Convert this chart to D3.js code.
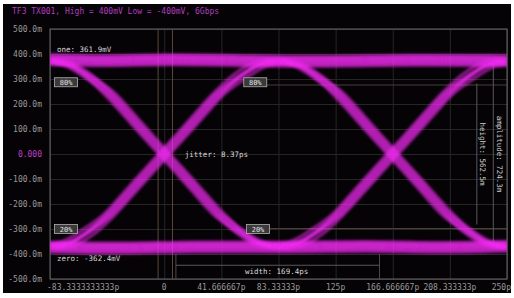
<!DOCTYPE html>
<html>
<head>
<meta charset="utf-8">
<script src="https://cdn.jsdelivr.net/npm/d3@7"></script>
<style>
  body { margin: 0; background: #fff; }
  svg { display: block; }
</style>
</head>
<body>
<div id="chart"></div>
<script>
// title and axis ticks
const title = "TF3 TX001, High = 400mV Low = -400mV, 6Gbps";
const yTicks = [500, 400, 300, 200, 100, 0, -100, -200, -300, -400, -500];
const yTickLabels = ["500.0m", "400.0m", "300.0m", "200.0m", "100.0m", "0.000", "-100.0m", "-200.0m", "-300.0m", "-400.0m", "-500.0m"];
const xTicks = [-83.3333, 0, 41.6667, 83.3333, 125, 166.6667, 208.3333, 250];
const xTickLabels = ["-83.3333333333p", "0", "41.666667p", "83.33333p", "125p", "166.666667p", "208.333333p", "250p"];

// waveform shapes (ps, mV)
const highLevel = [[-83.3, 378], [-40, 372], [0, 380], [60, 374], [120, 370], [180, 378], [250, 374]];
const lowLevel = [[-83.3, -372], [-30, -378], [20, -368], [90, -374], [150, -366], [200, -376], [250, -368]];
const edgeFall = [[-83, 372], [-70, 358], [-55, 310], [-40, 242], [-25, 152], [-12, 72], [0, 0], [12, -72], [25, -152], [40, -242], [55, -310], [70, -358], [83, -370]];
const edgeRise = [[-83, -370], [-70, -358], [-55, -310], [-40, -242], [-25, -152], [-12, -72], [0, 0], [12, 72], [25, 152], [40, 242], [55, 310], [70, 358], [83, 372]];
const crossings = [0, 166.7];

// spread of the traces (time jitter in ps, level noise in mV)
const levelSpread = [-20, -13, -6, 0, 6, 12, 18];
const edgeJitter = [-4, -2, 0, 2, 4];
const edgeNoise = [8, -6, 0, 6, -8];

// measurement readouts
const oneLabel = "one: 361.9mV";
const zeroLabel = "zero: -362.4mV";
const jitterLabel = "jitter: 8.37ps";
const widthLabel = "width: 169.4ps";
const heightLabel = "height: 562.5m";
const amplitudeLabel = "amplitude: 724.3m";
const levelBoxes = [
    { t: -80, v: 285, text: "80%" },
    { t: -80, v: -302, text: "20%" },
    { t: 58, v: 285, text: "80%" },
    { t: 60, v: -302, text: "20%" }
];
const jitterCursors = [-4.5, 6];
const widthCursors = [8.5, 157];
const eyeLines = [276, -298];
const heightCursor = { t: 228, from: 282, to: -282 };
const amplitudeCursor = { t: 240, from: 362, to: -362 };

const W = 514, H = 298;
const margin = { top: 29, right: 7, bottom: 19, left: 50 };
const mono = "'DejaVu Sans Mono', monospace";

const svg = d3.select("#chart").append("svg")
    .attr("width", W)
    .attr("height", H);

svg.append("rect")
    .attr("x", 3).attr("y", 4)
    .attr("width", W - 6).attr("height", H - 9)
    .attr("fill", "#050305");

const x = d3.scaleLinear()
    .domain([-83.3333, 250])
    .range([margin.left, W - margin.right]);

const y = d3.scaleLinear()
    .domain([-500, 500])
    .range([H - margin.bottom, margin.top]);

// grid
svg.append("g")
    .attr("transform", `translate(0,${H - margin.bottom})`)
    .call(d3.axisBottom(x).tickValues(xTicks).tickSize(-(H - margin.top - margin.bottom)).tickFormat(""))
    .call(g => g.select(".domain").remove())
    .call(g => g.selectAll(".tick line").attr("stroke", "#262626"));

svg.append("g")
    .attr("transform", `translate(${margin.left},0)`)
    .call(d3.axisLeft(y).tickValues(yTicks).tickSize(-(W - margin.left - margin.right)).tickFormat(""))
    .call(g => g.select(".domain").remove())
    .call(g => g.selectAll(".tick line").attr("stroke", "#262626"));

// frame
svg.append("rect")
    .attr("x", margin.left).attr("y", margin.top)
    .attr("width", W - margin.left - margin.right)
    .attr("height", H - margin.top - margin.bottom)
    .attr("fill", "none")
    .attr("stroke", "#6a6a6a");

// cursors
const cursorColor = "#5a4a3a";
jitterCursors.forEach(t => {
    svg.append("line")
        .attr("x1", x(t)).attr("x2", x(t))
        .attr("y1", margin.top).attr("y2", H - margin.bottom)
        .attr("stroke", cursorColor);
});
widthCursors.forEach(t => {
    svg.append("line")
        .attr("x1", x(t)).attr("x2", x(t))
        .attr("y1", y(-400)).attr("y2", H - margin.bottom)
        .attr("stroke", "#4a4a4a");
});
svg.append("line")
    .attr("x1", x(widthCursors[0])).attr("x2", x(widthCursors[1]))
    .attr("y1", y(-445)).attr("y2", y(-445))
    .attr("stroke", "#5a5a5a");
eyeLines.forEach(v => {
    svg.append("line")
        .attr("x1", x(60)).attr("x2", x(250))
        .attr("y1", y(v)).attr("y2", y(v))
        .attr("stroke", "#4a4038");
});
[heightCursor, amplitudeCursor].forEach(c => {
    svg.append("line")
        .attr("x1", x(c.t)).attr("x2", x(c.t))
        .attr("y1", y(c.from)).attr("y2", y(c.to))
        .attr("stroke", "#5a5a5a");
});

// traces
const defs = svg.append("defs");
const clip = defs.append("clipPath").attr("id", "plotClip");
clip.append("rect")
    .attr("x", margin.left).attr("y", margin.top)
    .attr("width", W - margin.left - margin.right)
    .attr("height", H - margin.top - margin.bottom);
const glow = defs.append("filter").attr("id", "glow");
glow.append("feGaussianBlur").attr("stdDeviation", 1.2);

const line = d3.line()
    .x(d => x(d[0]))
    .y(d => y(d[1]))
    .curve(d3.curveBasis);

const traces = svg.append("g")
    .attr("clip-path", "url(#plotClip)")
    .attr("filter", "url(#glow)");

const traceStyle = sel => sel
    .attr("fill", "none")
    .attr("stroke", "#f22af2")
    .attr("stroke-width", 4)
    .attr("stroke-opacity", 0.5);

[highLevel, lowLevel].forEach(level => {
    levelSpread.forEach(dv => {
        traces.append("path")
            .datum(level.map(d => [d[0], d[1] + dv]))
            .attr("d", line)
            .call(traceStyle);
    });
});

crossings.forEach(c => {
    [edgeFall, edgeRise].forEach(edge => {
        edgeJitter.forEach((dt, i) => {
            traces.append("path")
                .datum(edge.map(d => [d[0] + c + dt, d[1] + (Math.abs(d[1]) > 300 ? edgeNoise[i] : 0)]))
                .attr("d", d3.line().x(d => x(d[0])).y(d => y(d[1])).curve(d3.curveMonotoneX))
                .call(traceStyle);
        });
    });
});

// axis labels
svg.append("text")
    .attr("x", 12).attr("y", 14)
    .attr("fill", "#b43cc0")
    .style("font-family", mono)
    .style("font-size", "8px")
    .text(title);

svg.append("g")
    .selectAll("text")
    .data(yTicks)
    .join("text")
    .attr("x", 42)
    .attr("y", d => y(d) + 3)
    .attr("text-anchor", "end")
    .attr("fill", d => d === 0 ? "#c040c8" : "#9a9a9a")
    .style("font-family", mono)
    .style("font-size", "8px")
    .text((d, i) => yTickLabels[i]);

svg.append("g")
    .selectAll("text")
    .data(xTicks)
    .join("text")
    .attr("x", (d, i) => i === 0 ? margin.left - 3 : x(d))
    .attr("y", H - 8)
    .attr("text-anchor", (d, i) => i === 0 ? "start" : (i === xTicks.length - 1 ? "end" : "middle"))
    .attr("dx", (d, i) => i === xTicks.length - 1 ? 4 : 0)
    .attr("fill", "#9a9a9a")
    .style("font-family", mono)
    .style("font-size", "8px")
    .text((d, i) => xTickLabels[i]);

// readouts
const readout = (tx, ty, text) => svg.append("text")
    .attr("x", tx).attr("y", ty)
    .attr("fill", "#d8d8d8")
    .style("font-family", mono)
    .style("font-size", "7.5px")
    .text(text);

readout(57, 52, oneLabel);
readout(57, 261, zeroLabel);
readout(x(15), y(0) + 3, jitterLabel);
readout(245, 274, widthLabel);

[[x(heightCursor.t) + 3, heightLabel], [x(amplitudeCursor.t) + 4, amplitudeLabel]].forEach(([tx, text]) => {
    svg.append("text")
        .attr("transform", `translate(${tx},${y(0)}) rotate(90)`)
        .attr("text-anchor", "middle")
        .attr("fill", "#d0d0d0")
        .style("font-family", mono)
        .style("font-size", "7.5px")
        .text(text);
});

const boxes = svg.append("g")
    .selectAll("g")
    .data(levelBoxes)
    .join("g")
    .attr("transform", d => `translate(${x(d.t)},${y(d.v)})`);

boxes.append("rect")
    .attr("x", 0).attr("y", -5)
    .attr("width", 23).attr("height", 9)
    .attr("fill", "#3a3a3a")
    .attr("stroke", "#b0b0b0")
    .attr("stroke-width", 0.8);

boxes.append("text")
    .attr("x", 11.5).attr("y", 2.5)
    .attr("text-anchor", "middle")
    .attr("fill", "#e0e0e0")
    .style("font-family", mono)
    .style("font-size", "7px")
    .text(d => d.text);
</script>
</body>
</html>
